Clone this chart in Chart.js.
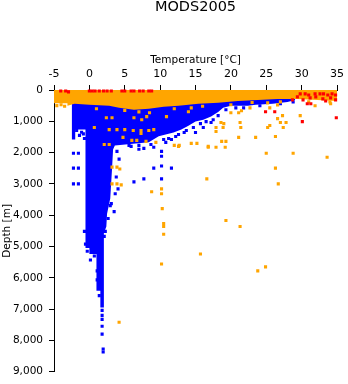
<!DOCTYPE html>
<html>
<head>
<meta charset="utf-8">
<title>MODS2005</title>
<script src="https://cdn.jsdelivr.net/npm/chart.js@4.4.1/dist/chart.umd.min.js"></script>
<style>
    html, body { margin: 0; padding: 0; background: #fff; }
    #wrap { width: 348px; height: 384px; }
</style>
</head>
<body>
<div id="wrap"><canvas id="profile" width="348" height="384"></canvas></div>
<script>
(function() {
    'use strict';

    // Axis ticks
    var tempTicks = [-5, 0, 5, 10, 15, 20, 25, 30, 35];
    var depthTicks = [0, 1000, 2000, 3000, 4000, 5000, 6000, 7000, 8000, 9000];

    // Lower edge of the dense blue cloud (filled up to the surface)
    var blueEdgeTemp = [-2.5, -2.0, -2.0, -0.55, -0.55, 0.0, 0.0, 1.0, 1.0, 1.55, 1.55, 2.05, 2.05, 2.4, 2.5, 2.95,
        3.2, 3.35, 3.6, 8.4, 9.8, 11.9, 13.0, 14.0, 15.0, 16.1, 17.2, 18.2, 18.9, 20.0, 22.4, 23.5, 25.9, 28.0, 29.1];
    var blueEdgeDepth = [1580, 1580, 1265, 1265, 5050, 5050, 5240, 5240, 6410, 6410, 6950, 6950, 4580, 4360, 3950, 3470,
        2530, 1900, 1770, 1670, 1480, 1360, 1260, 1140, 1010, 950, 850, 700, 570, 505, 505, 475, 440, 380, 316];

    // Scattered blue casts
    var blueTemp = [-2.25, -1.55, -2.25, -1.55, -2.25, -1.55,
        -1.7, -1.1, -1.4, -0.85, -1.8, -0.7,
        3.9, 4.2, 3.8, 4.05, 3.65, 3.5, 2.95, 3.1, 2.65, 0.15,
        2.25, 2.1, -0.7, -0.55, -0.3, 0.4, 0.7,
        1.1, 1.1, 1.4, 1.8, 1.8, 1.8, 1.8, 1.8, 1.95, 1.95,
        5.9, 7.0, 7.7, 9.1, 10.2, 10.2, 10.2, 9.1, 11.6, 10.2, 7.7, 6.3,
        10.8, 11.6, 12.2, 13.4, 15.0, 16.1, 17.2,
        5.6, 7.0, 8.7, 10.5, 11.2, 12.6, 13.7, 14.7, 15.7, 16.5, 17.5, 18.2, 19.3, 20.7, 21.8, 24.1, 27.0, 28.8];
    var blueDepth = [2020, 2020, 2495, 2495, 3000, 3000,
        1105, 1350, 1450, 1400, 1295, 1550,
        1960, 2210, 2780, 3160, 3315, 3885, 3695, 3630, 4105, 5430,
        4515, 4675, 4515, 4925, 5150, 5115, 5305,
        5780, 6065, 6570, 7040, 7200, 7330, 7550, 7800, 8275, 8370,
        1800, 1895, 1865, 1830, 1960, 2115, 2430, 2495, 2495, 2840, 2840, 2935,
        1675, 1580, 1485, 1360, 1360, 1200, 1040,
        1770, 1770, 1740, 1580, 1550, 1420, 1295, 1200, 1075, 1010, 950, 820, 630, 570, 570, 505, 440, 380];

    // Lower edge of the dense orange surface band
    var orangeEdgeTemp = [-5.0, -3.1, -3.1, -2.1, 0.0, 2.8, 4.2, 6.3, 8.4, 10.5, 12.6, 15.4, 18.2, 21.0, 23.8, 26.6, 29.4, 32.2, 35.0];
    var orangeEdgeDepth = [420, 420, 505, 440, 475, 505, 570, 630, 600, 535, 505, 440, 410, 350, 316, 285, 285, 316, 350];

    // Scattered orange casts
    var orangeTemp = [-4.6, -4.0, -3.5,
        2.4, 3.2, 6.3, 7.4, 8.1, 0.7, 2.8, 3.9, 5.0, 6.2, 7.3, 8.4, 9.1, 7.3,
        2.1, 2.8, 4.75, 6.0, 6.7, 8.0, 9.4, 10.9, 8.5, 14.0, 14.4,
        12.0, 12.7, 14.4, 15.2, 16.8,
        3.2, 3.9, 4.3, 3.2, 3.9, 4.5,
        20.0, 21.1, 21.5, 22.7, 25.2, 25.5, 26.6, 27.3, 26.6, 27.8, 29.8, 31.9, 34.1,
        18.6, 19.0, 21.3, 21.4, 17.9, 17.9, 18.9, 25.5, 25.2, 27.0, 27.4,
        18.7, 19.3, 21.1, 23.5, 26.3, 17.9, 19.2, 16.8,
        25.0, 28.8, 33.6, 26.3, 16.6, 26.7, 19.3, 21.3, 15.7, 24.9, 23.8,
        10.2, 10.2, 8.8, 10.3, 10.5, 10.5, 10.5, 10.2, 4.2, 12.6,
        1.0, 5.0, 7.0, 12.0, 16.0, 20.0, 23.0, 27.0, 31.0, 34.0];
    var orangeDepth = [500, 470, 520,
        885, 885, 885, 950, 850, 1200, 1265, 1265, 1265, 1295, 1295, 1295, 1265, 1390,
        1740, 1740, 1515, 1610, 1610, 1640, 1675, 850, 725, 695, 570,
        1770, 1770, 1705, 1705, 1800,
        2465, 2465, 2525, 3000, 3000, 3030,
        725, 725, 665, 570, 410, 570, 475, 820, 915, 1040, 820, 505, 440,
        1040, 1075, 1040, 1200, 1200, 1325, 1200, 1135, 1200, 1040, 1200,
        1640, 1640, 1515, 1515, 1485, 1830, 1830, 1830,
        2020, 2020, 2150, 2495, 2840, 3000, 4170, 4360, 5240, 5650, 5780,
        3160, 3315, 3250, 3790, 4265, 4360, 4610, 5560, 7420, 1800,
        600, 650, 700, 600, 520, 470, 400, 380, 380, 380];

    // Red casts
    var redTemp = [0.0, 0.4, 0.8, 1.4, 2.0, 2.5, 3.1, 4.6, 5.0, 5.9, 6.3, 7.1, 7.6, 8.4, 8.8,
        -4.05, -3.35, -2.95,
        29.8, 30.5, 31.0, 31.9, 32.6, 33.1, 33.7, 34.3, 34.8, 30.2, 31.2, 33.0, 33.4, 34.1, 34.8,
        28.7, 30.8, 31.3, 34.9, 30.1, 24.9, 26.2, 32.0, 29.4];
    var redDepth = [30, 30, 30, 30, 30, 30, 30, 30, 30, 30, 30, 30, 30, 30, 30,
        30, 30, 60,
        125, 125, 160, 125, 125, 125, 160, 125, 160, 316, 250, 285, 350, 250, 316,
        316, 440, 440, 885, 1010, 695, 695, 220, 220];

    var FONT = 'DejaVu Sans';

    function pairs(temps, depths) {
        return temps.map(function(t, i) {
            return { x: t, y: depths[i] };
        });
    }

    // dense part of a cloud: its lower edge, filled up to depth 0
    function cloud(temps, depths, color, order) {
        return {
            data: pairs(temps, depths),
            showLine: true,
            fill: { value: 0 },
            backgroundColor: color,
            borderColor: 'transparent',
            borderWidth: 0,
            pointRadius: 0,
            order: order
        };
    }

    // single casts as small squares
    function casts(temps, depths, color, order) {
        return {
            data: pairs(temps, depths),
            pointStyle: 'rect',
            pointRadius: 2.2,
            borderWidth: 0,
            backgroundColor: color,
            clip: 3,
            order: order
        };
    }

    new Chart(document.getElementById('profile'), {
        type: 'scatter',
        data: {
            datasets: [
                casts(redTemp, redDepth, '#ff0000', 0),
                casts(orangeTemp, orangeDepth, '#ffa500', 1),
                cloud(orangeEdgeTemp, orangeEdgeDepth, '#ffa500', 2),
                casts(blueTemp, blueDepth, '#0000ff', 3),
                cloud(blueEdgeTemp, blueEdgeDepth, '#0000ff', 4)
            ]
        },
        options: {
            responsive: false,
            animation: false,
            events: [],
            layout: { padding: { left: 0, right: 8, top: 0, bottom: 9 } },
            plugins: {
                legend: { display: false },
                tooltip: { enabled: false },
                title: {
                    display: true,
                    text: 'MODS2005',
                    fullSize: false,
                    color: '#000',
                    font: { family: FONT, size: 14.5, weight: 'normal', lineHeight: '15px' },
                    padding: { top: 0, bottom: 1 }
                }
            },
            scales: {
                x: {
                    type: 'linear',
                    position: 'top',
                    min: -5,
                    max: 35,
                    afterBuildTicks: function(scale) {
                        scale.ticks = tempTicks.map(function(v) { return { value: v }; });
                    },
                    afterFit: function(scale) { scale.height = 74; },
                    ticks: { color: '#000', padding: 4, font: { family: FONT, size: 11 } },
                    grid: { drawOnChartArea: false, drawTicks: true, tickLength: 5, color: '#000' },
                    border: { display: true, color: '#000', width: 1 },
                    title: {
                        display: true,
                        text: 'Temperature [°C]',
                        color: '#000',
                        font: { family: FONT, size: 10.5, lineHeight: '12px' },
                        padding: { top: 38, bottom: 0 }
                    }
                },
                y: {
                    type: 'linear',
                    position: 'left',
                    min: 0,
                    max: 9000,
                    reverse: true,
                    afterBuildTicks: function(scale) {
                        scale.ticks = depthTicks.map(function(v) { return { value: v }; });
                    },
                    afterFit: function(scale) { scale.width = 54; },
                    ticks: { color: '#000', padding: 6, font: { family: FONT, size: 10.5 } },
                    grid: { drawOnChartArea: false, drawTicks: true, tickLength: 5, color: '#000' },
                    border: { display: true, color: '#000', width: 1 },
                    title: {
                        display: true,
                        text: 'Depth [m]',
                        color: '#000',
                        font: { family: FONT, size: 10.5, lineHeight: '12px' },
                        padding: { top: 1, bottom: 0 }
                    }
                }
            }
        }
    });
})();
</script>
</body>
</html>
